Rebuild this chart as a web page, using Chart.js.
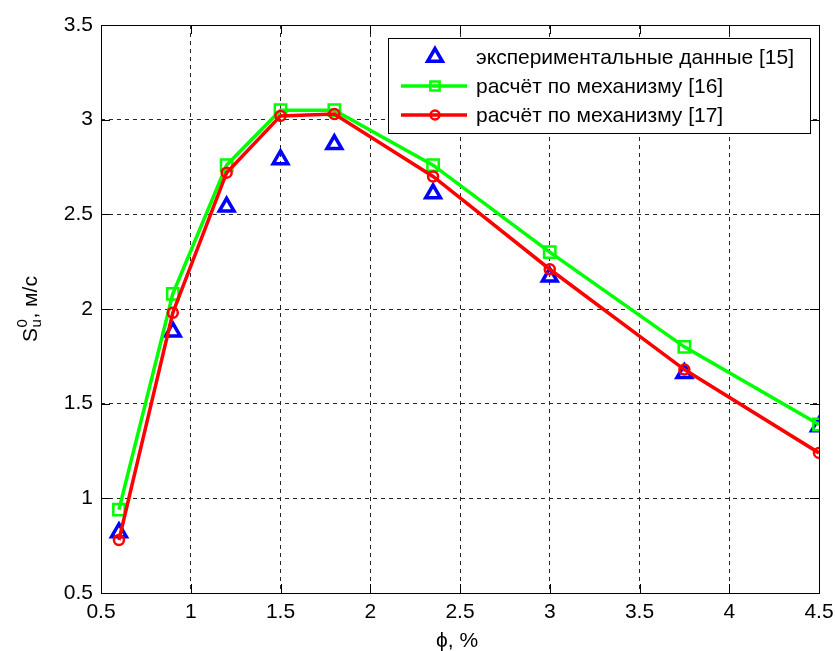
<!DOCTYPE html>
<html>
<head>
<meta charset="utf-8">
<script src="https://cdn.jsdelivr.net/npm/chart.js@4/dist/chart.umd.min.js"></script>
<style>
  html, body { margin: 0; padding: 0; background: #fff; }
  #c { display: block; }
</style>
</head>
<body>
<canvas id="c" width="835" height="651"></canvas>
<script>
// Equivalence ratio, % (shared by all series)
const phi = [0.6, 0.9, 1.2, 1.5, 1.8, 2.35, 3, 3.75, 4.5];
// Laminar burning velocity S_u^0, m/s
const experiment15 = [0.82, 1.88, 2.54, 2.79, 2.87, 2.61, 2.17, 1.66, 1.38];
const mechanism16  = [0.94, 2.08, 2.76, 3.05, 3.05, 2.76, 2.30, 1.80, 1.39];
const mechanism17  = [0.78, 1.98, 2.72, 3.02, 3.03, 2.70, 2.21, 1.68, 1.24];

const seriesNames = [
  'экспериментальные данные [15]',
  'расчёт по механизму [16]',
  'расчёт по механизму [17]'
];
const xTicks = [0.5, 1, 1.5, 2, 2.5, 3, 3.5, 4, 4.5];
const yTicks = [0.5, 1, 1.5, 2, 2.5, 3, 3.5];
const xTitle = 'ϕ, %';
const yTitleMain = 'S', yTitleSup = '0', yTitleSub = 'u', yTitleRest = ', м/с';

const FONT = '"Liberation Sans", Arial, sans-serif';
const FS = 21;
const toPoints = (ys) => ys.map((y, i) => ({ x: phi[i], y }));

// Inward tick marks on all four sides plus the solid axes box
const frameTicks = {
  id: 'frameTicks',
  afterDatasetsDraw(chart) {
    const { ctx, chartArea: a, scales: { x, y } } = chart;
    const len = 9;
    ctx.save();
    ctx.strokeStyle = '#000';
    ctx.lineWidth = 1;
    ctx.setLineDash([]);
    ctx.beginPath();
    x.ticks.forEach(t => {
      const px = Math.round(x.getPixelForValue(t.value)) + 0.5;
      ctx.moveTo(px, a.bottom); ctx.lineTo(px, a.bottom - len);
      ctx.moveTo(px, a.top); ctx.lineTo(px, a.top + len);
    });
    y.ticks.forEach(t => {
      const py = Math.round(y.getPixelForValue(t.value)) + 0.5;
      ctx.moveTo(a.left, py); ctx.lineTo(a.left + len, py);
      ctx.moveTo(a.right, py); ctx.lineTo(a.right - len, py);
    });
    ctx.stroke();
    ctx.strokeRect(Math.round(a.left) + 0.5, Math.round(a.top) + 0.5,
                   Math.round(a.right - a.left), Math.round(a.bottom - a.top));
    ctx.restore();
  }
};

// Boxed legend placed inside the plotting area, top right
const innerLegend = {
  id: 'innerLegend',
  afterDraw(chart) {
    const { ctx } = chart;
    const box = { x: 388.5, y: 38.5, w: 422, h: 95 };
    const rows = [57, 86, 115];
    ctx.save();
    ctx.fillStyle = '#fff';
    ctx.fillRect(box.x, box.y, box.w, box.h);
    ctx.strokeStyle = '#000';
    ctx.lineWidth = 1;
    ctx.strokeRect(box.x, box.y, box.w, box.h);
    chart.data.datasets.forEach((ds, i) => {
      const yy = rows[i];
      if (ds.showLine !== false) {
        ctx.strokeStyle = ds.borderColor;
        ctx.lineWidth = ds.borderWidth;
        ctx.beginPath();
        ctx.moveTo(401, yy); ctx.lineTo(467, yy);
        ctx.stroke();
      }
      ctx.strokeStyle = ds.pointBorderColor;
      ctx.fillStyle = 'rgba(0,0,0,0)';
      ctx.lineWidth = ds.pointBorderWidth;
      Chart.helpers.drawPoint(ctx, {
        pointStyle: ds.pointStyle,
        radius: ds.legendRadius,
        rotation: 0,
        borderWidth: ds.pointBorderWidth
      }, 435, yy);
      ctx.fillStyle = '#000';
      ctx.font = FS + 'px ' + FONT;
      ctx.textBaseline = 'middle';
      ctx.textAlign = 'left';
      ctx.fillText(ds.label, 476, yy + 1);
    });
    ctx.restore();
  }
};

// Axis titles; the y title carries a stacked superscript and subscript
const axisTitles = {
  id: 'axisTitles',
  afterDraw(chart) {
    const { ctx, chartArea: a } = chart;
    ctx.save();
    ctx.fillStyle = '#000';
    ctx.textBaseline = 'middle';
    ctx.textAlign = 'center';
    ctx.font = FS + 'px ' + FONT;
    ctx.fillText(xTitle, (a.left + a.right) / 2 - 3, 641);

    const big = FS + 'px ' + FONT, small = '15px ' + FONT;
    ctx.font = big;
    const wS = ctx.measureText(yTitleMain).width;
    const wRest = ctx.measureText(yTitleRest).width;
    ctx.font = small;
    const wScript = Math.max(ctx.measureText(yTitleSup).width, ctx.measureText(yTitleSub).width);
    const total = wS + wScript + 1 + wRest;
    const cy = (a.top + a.bottom) / 2;
    ctx.translate(37, cy + total / 2);
    ctx.rotate(-Math.PI / 2);
    ctx.textAlign = 'left';
    ctx.textBaseline = 'alphabetic';
    ctx.font = big;
    ctx.fillText(yTitleMain, 0, 0);
    ctx.font = small;
    ctx.fillText(yTitleSup, wS + 0.5, -10);
    ctx.fillText(yTitleSub, wS + 0.5, 4);
    ctx.font = big;
    ctx.fillText(yTitleRest, wS + wScript + 1, 0);
    ctx.restore();
  }
};

new Chart(document.getElementById('c'), {
  type: 'scatter',
  data: {
    datasets: [
      {
        label: seriesNames[0],
        data: toPoints(experiment15),
        showLine: false,
        pointStyle: 'triangle',
        pointRadius: 8.5,
        legendRadius: 8.5,
        pointBorderWidth: 3.5,
        pointBorderColor: '#0000ff',
        pointBackgroundColor: 'rgba(0,0,0,0)',
        borderColor: '#0000ff',
        order: 3
      },
      {
        label: seriesNames[1],
        data: toPoints(mechanism16),
        showLine: true,
        borderColor: '#00ff00',
        borderWidth: 3.5,
        pointStyle: 'rect',
        pointRadius: 8,
        legendRadius: 6.5,
        pointBorderWidth: 2.5,
        pointBorderColor: '#00ff00',
        pointBackgroundColor: 'rgba(0,0,0,0)',
        order: 2
      },
      {
        label: seriesNames[2],
        data: toPoints(mechanism17),
        showLine: true,
        borderColor: '#ff0000',
        borderWidth: 3.5,
        pointStyle: 'circle',
        pointRadius: 5,
        legendRadius: 4.5,
        pointBorderWidth: 2.5,
        pointBorderColor: '#ff0000',
        pointBackgroundColor: 'rgba(0,0,0,0)',
        order: 1
      }
    ]
  },
  options: {
    responsive: false,
    animation: false,
    devicePixelRatio: 1,
    layout: { padding: { top: 25, right: 16, left: 0, bottom: 0 } },
    plugins: { legend: { display: false }, tooltip: { enabled: false } },
    elements: { line: { tension: 0 } },
    scales: {
      x: {
        type: 'linear',
        min: 0.5, max: 4.5,
        afterBuildTicks: s => { s.ticks = xTicks.map(v => ({ value: v })); },
        afterFit: s => { s.height = 58; s.paddingLeft = 0; s.paddingRight = 0; },
        ticks: {
          color: '#000', padding: 7, maxRotation: 0, autoSkip: false,
          font: { family: FONT, size: FS },
          callback: v => String(v)
        },
        grid: { color: '#262626', lineWidth: 1, drawTicks: false },
        border: { display: false, dash: [4, 4] }
      },
      y: {
        type: 'linear',
        min: 0.5, max: 3.5,
        afterBuildTicks: s => { s.ticks = yTicks.map(v => ({ value: v })); },
        afterFit: s => { s.width = 101; s.paddingTop = 0; s.paddingBottom = 0; },
        ticks: {
          color: '#000', padding: 8, autoSkip: false,
          font: { family: FONT, size: FS },
          callback: v => String(v)
        },
        grid: { color: '#262626', lineWidth: 1, drawTicks: false },
        border: { display: false, dash: [4, 4] }
      }
    }
  },
  plugins: [frameTicks, innerLegend, axisTitles]
});
</script>
</body>
</html>
